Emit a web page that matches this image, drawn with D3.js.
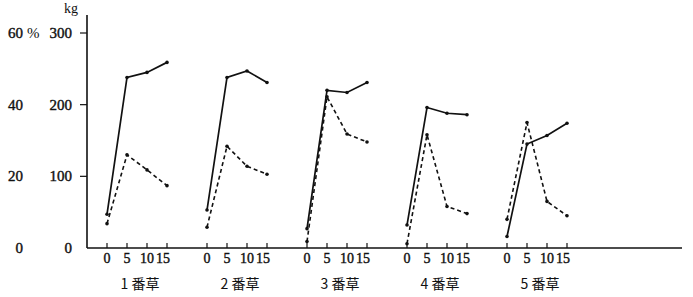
<!DOCTYPE html>
<html>
<head>
<meta charset="utf-8">
<script src="https://cdn.jsdelivr.net/npm/d3@7"></script>
<style>
  body { margin: 0; background: #fff; }
  svg text { font-family: "Times New Roman", "Liberation Serif", "DejaVu Serif", serif; fill: #111; }
  svg text.num { stroke: #111; stroke-width: 0.4px; }
  svg text.cjk { font-family: "Noto Sans CJK JP", sans-serif; }
</style>
</head>
<body>
<script>
// cutting groups (番草) and days after cutting
const groups = ["1 番草", "2 番草", "3 番草", "4 番草", "5 番草"];
const days = [0, 5, 10, 15];

// solid line (kg), dashed line (kg, 60% = 300kg)
const solidKg = [
  [47, 238, 245, 259],
  [53, 238, 247, 231],
  [27, 220, 217, 231],
  [32, 196, 188, 186],
  [16, 145, 157, 174]
];
const dashedKg = [
  [34, 130, 109, 87],
  [29, 142, 114, 103],
  [9, 211, 159, 148],
  [6, 158, 58, 48],
  [40, 175, 65, 45]
];

const kgTicks = [0, 100, 200, 300];
const pctTicks = [0, 20, 40, 60];

var width = 693,
  height = 297;

var svg = d3
  .select("body")
  .append("svg")
  .attr("width", width)
  .attr("height", height);

var yScale = d3.scaleLinear().domain([0, 300]).range([248, 33]);
var groupScale = d3.scaleLinear().domain([0, 4]).range([107, 507]);
var dayScale = d3.scaleLinear().domain([0, 15]).range([0, 60]);

const xPos = (g, d) => groupScale(g) + dayScale(d);

// axes
svg.append("line")
  .attr("x1", 87).attr("x2", 87)
  .attr("y1", 15).attr("y2", 248)
  .attr("stroke", "#111").attr("stroke-width", 1.6);

svg.append("line")
  .attr("x1", 87).attr("x2", 682)
  .attr("y1", 248).attr("y2", 248)
  .attr("stroke", "#111").attr("stroke-width", 1.6);

svg.selectAll(".ytick")
  .data(kgTicks.filter((d) => d > 0))
  .enter()
  .append("line")
  .attr("x1", 80).attr("x2", 87)
  .attr("y1", (d) => yScale(d)).attr("y2", (d) => yScale(d))
  .attr("stroke", "#111").attr("stroke-width", 1.2);

svg.selectAll(".kglabel")
  .data(kgTicks)
  .enter()
  .append("text")
  .attr("class", "num")
  .attr("x", 72)
  .attr("y", (d) => yScale(d) + 5)
  .attr("text-anchor", "end")
  .style("font-size", "15px")
  .text((d) => d);

svg.selectAll(".pctlabel")
  .data(pctTicks)
  .enter()
  .append("text")
  .attr("class", "num")
  .attr("x", 23)
  .attr("y", (d) => yScale(d * 5) + 5)
  .attr("text-anchor", "end")
  .style("font-size", "15px")
  .text((d) => d);

svg.append("text")
  .attr("x", 27).attr("y", yScale(300) + 5)
  .style("font-size", "15px")
  .text("%");

svg.append("text")
  .attr("x", 78).attr("y", 13)
  .attr("text-anchor", "end")
  .style("font-size", "14px")
  .text("kg");

// x ticks and labels per group
groups.forEach(function (name, g) {
  var gx = svg.append("g");

  gx.selectAll("line")
    .data(days)
    .enter()
    .append("line")
    .attr("x1", (d) => xPos(g, d)).attr("x2", (d) => xPos(g, d))
    .attr("y1", 243).attr("y2", 248)
    .attr("stroke", "#111").attr("stroke-width", 1.2);

  gx.selectAll("text")
    .data(days)
    .enter()
    .append("text")
    .attr("class", "num")
    .attr("x", (d) => xPos(g, d) - (d === 15 ? 4 : 0))
    .attr("y", 263)
    .attr("text-anchor", "middle")
    .style("font-size", "14px")
    .text((d) => d);

  gx.append("text")
    .attr("class", "cjk")
    .attr("x", xPos(g, 7.5) + 3)
    .attr("y", 289)
    .attr("text-anchor", "middle")
    .style("font-size", "14px")
    .text(name);
});

// lines
var line = d3.line()
  .x((d) => xPos(d.g, d.day))
  .y((d) => yScale(d.v));

function series(arr, g) {
  return arr[g].map((v, i) => ({ g: g, day: days[i], v: v }));
}

groups.forEach(function (name, g) {
  svg.append("path")
    .datum(series(solidKg, g))
    .attr("d", line)
    .attr("fill", "none")
    .attr("stroke", "#111")
    .attr("stroke-width", 1.7);

  svg.append("path")
    .datum(series(dashedKg, g))
    .attr("d", line)
    .attr("fill", "none")
    .attr("stroke", "#111")
    .attr("stroke-width", 1.6)
    .attr("stroke-dasharray", "4,3");

  svg.selectAll(".pt" + g)
    .data(series(solidKg, g).concat(series(dashedKg, g)))
    .enter()
    .append("circle")
    .attr("cx", (d) => xPos(d.g, d.day))
    .attr("cy", (d) => yScale(d.v))
    .attr("r", 1.8)
    .attr("fill", "#111");
});
</script>
</body>
</html>
